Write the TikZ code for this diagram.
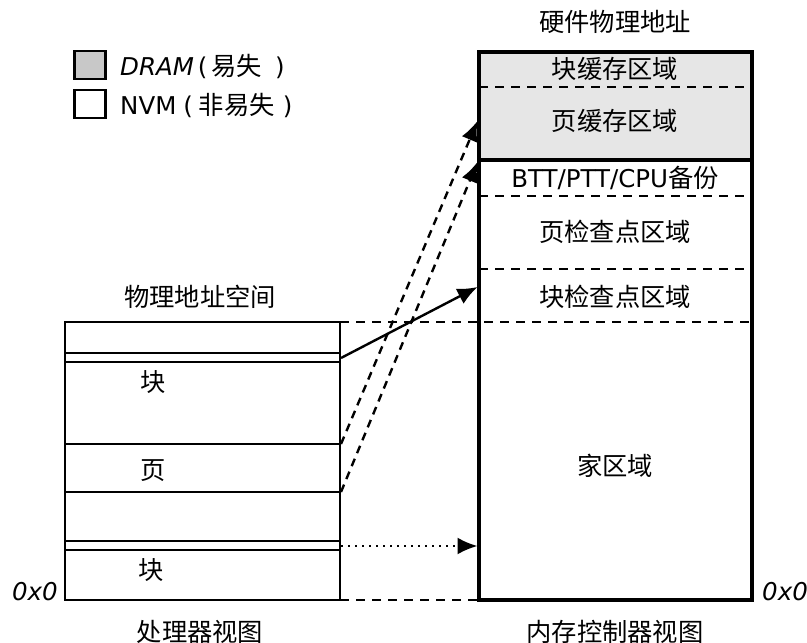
\documentclass[tikz,border=0pt]{standalone}
\usepackage{fontspec}
\setmainfont{DejaVu Sans}
\newfontfamily\cjk{Noto Sans CJK SC}
\usetikzlibrary{arrows.meta}
\definecolor{legendgray}{HTML}{C8C8C8}
\definecolor{regiongray}{HTML}{E6E6E6}
\newcommand{\zh}[1]{{\fontsize{25.3}{30}\selectfont\cjk #1}}
\begin{document}
\begin{tikzpicture}[x=1pt,y=-1pt,
  font=\fontsize{24.5}{29}\selectfont,
  lbl/.style={inner sep=0pt, text height=22pt, text depth=3pt},
  outerbox/.style={line width=3.2pt},
  leftbox/.style={line width=2.4pt},
  thinline/.style={line width=1.5pt},
  midline/.style={line width=2.2pt},
  dline/.style={line width=2.5pt, dash pattern=on 9pt off 7pt},
  headtip/.style={-{Latex[length=20pt,width=17pt]}},
  sarrow/.style={headtip, line width=2.4pt},
  darrow/.style={headtip, line width=2.4pt, dash pattern=on 8pt off 6pt},
  parrow/.style={headtip, line width=2.4pt, dash pattern=on 2pt off 5pt}
]
\useasboundingbox (0,0) rectangle (807,643);

% ---------- legend ----------
\node[draw, line width=2.2pt, fill=legendgray, minimum width=31pt, minimum height=28pt, inner sep=0pt] (legD) at (90,65) {};
\node[draw, line width=2.2pt, fill=white, minimum width=31pt, minimum height=28pt, inner sep=0pt] (legN) at (90,104) {};
\node[lbl, anchor=west] (legDt) at (120,66) {\itshape DRAM\/\hspace{4pt}\upshape(\hspace{4pt}\zh{易失}\hspace{13pt})};
\node[lbl, anchor=west] (legNt) at (120,105) {NVM\hspace{7pt}(\hspace{6pt}\zh{非易失}\hspace{8pt})};

% ---------- right box (memory controller view) ----------
\fill[regiongray] (479,52) rectangle (752,160);
\draw[dline] (479,87) -- (752,87);
\draw[dline] (479,196) -- (752,196);
\draw[dline] (479,269) -- (752,269);
\draw[dline] (340,322) -- (752,322);
\draw[dline] (340,600) -- (479,600);
\draw[outerbox] (479,160) -- (752,160);
\draw[outerbox] (479,52) rectangle (752,600);

\node[lbl] (hwtitle) at (615,22) {\zh{硬件物理地址}};
\node[lbl] (bcache) at (615,69) {\zh{块缓存区域}};
\node[lbl] (pcache) at (615,121) {\zh{页缓存区域}};
\node[lbl] (btt) at (615,178) {BTT/PTT/CPU\zh{备份}};
\node[lbl] (pchk) at (615,232) {\zh{页检查点区域}};
\node[lbl] (bchk) at (615,297) {\zh{块检查点区域}};
\node[lbl] (home) at (615,466) {\zh{家区域}};
\node[lbl] (mcview) at (615,632) {\zh{内存控制器视图}};
\node[lbl, anchor=west] (zeroR) at (762,591) {\itshape 0x0};

% ---------- left box (processor view) ----------
\draw[leftbox] (65,322) rectangle (340,600);
\draw[midline] (65,353) -- (340,353);
\draw[midline] (65,362) -- (340,362);
\draw[thinline] (65,444) -- (340,444);
\draw[midline] (65,492) -- (340,492);
\draw[midline] (65,541) -- (340,541);
\draw[midline] (65,550) -- (340,550);

\node[lbl] (pastitle) at (200,297) {\zh{物理地址空间}};
\node[lbl] (blkA) at (153,382) {\zh{块}};
\node[lbl] (pg) at (153,470) {\zh{页}};
\node[lbl] (blkB) at (151,570) {\zh{块}};
\node[lbl] (cpuview) at (200,632) {\zh{处理器视图}};
\node[lbl, anchor=east] (zeroL) at (58,591) {\itshape 0x0};

% ---------- connector end points ----------
\coordinate (srcBlkA) at (341,358);
\coordinate (srcPgTop) at (341,444);
\coordinate (srcPgBot) at (341,492);
\coordinate (srcBlkB) at (341,546);
\coordinate (dstBchk) at (477.5,287);
\coordinate (dstPc1) at (477.5,121);
\coordinate (dstPc2) at (477.5,162);
\coordinate (dstHome) at (477.5,546);

\draw[sarrow] (srcBlkA) -- (dstBchk);
\draw[darrow] (srcPgTop) -- (dstPc1);
\draw[darrow] (srcPgBot) -- (dstPc2);
\draw[parrow] (srcBlkB) -- (dstHome);
\end{tikzpicture}
\end{document}
